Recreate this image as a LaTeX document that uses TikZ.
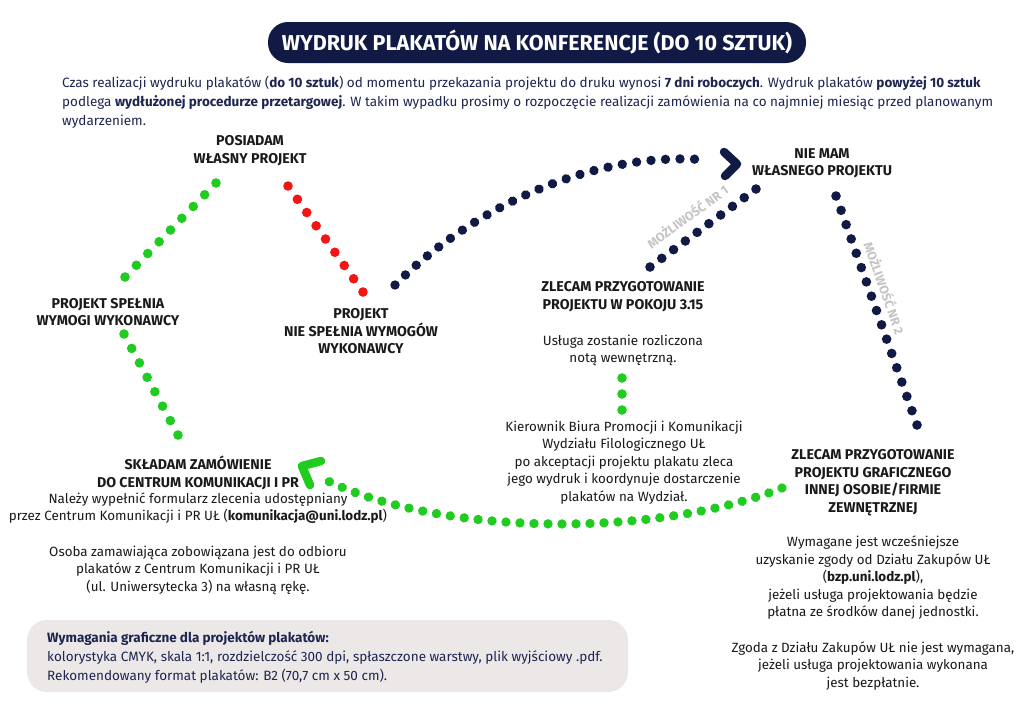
\documentclass[tikz,border=0pt]{standalone}
\usepackage{fontspec}
\setmainfont{Fira Sans}
\usetikzlibrary{calc,decorations.markings}
\definecolor{navy}{HTML}{111A44}
\definecolor{intro}{HTML}{1E2550}
\definecolor{grn}{HTML}{1FCC1F}
\definecolor{rd}{HTML}{F51414}
\definecolor{lbl}{HTML}{C4C4C4}
\definecolor{boxbg}{HTML}{ECE8E8}
\definecolor{txt}{HTML}{1A1A1A}
\newcommand\dotrow[4]{\foreach \i in {0,...,#3} \fill[#4] ($(#1)!\i/#3!(#2)$) circle (4.8pt);}
\begin{document}
\begin{tikzpicture}[x=1pt,y=-1pt,
 head/.style={font=\fontsize{14.2}{17.5}\selectfont\bfseries, align=center, text=txt, inner sep=0pt},
 body/.style={font=\fontsize{13.4}{17.6}\selectfont, align=center, text=txt, inner sep=0pt},
 possib/.style={font=\fontsize{12.5}{14}\selectfont\bfseries, text=lbl, inner sep=0pt},
 chev/.style={line width=8.5pt, line cap=round, line join=round},
 curvedots/.style 2 args={postaction={decorate}, decoration={markings, mark=between positions 0 and 1 step #2 with {\fill[#1] (0,0) circle (4.7pt);}}}
]
\useasboundingbox[fill=white] (0,0) rectangle (1024,724);

% title
\node[fill=navy, rounded corners=20pt, minimum width=538pt, minimum height=41pt, inner sep=0pt,
  text=white, font=\fontsize{21.5}{24}\selectfont\bfseries] (title) at (537,42.5) {WYDRUK PLAKATÓW NA KONFERENCJE (DO 10 SZTUK)};

% intro
\node[anchor=west, align=left, inner sep=0pt, text=intro, font=\fontsize{13.5}{19}\selectfont] (intro) at (62,102)
 {Czas realizacji wydruku plakatów (\textbf{do 10 sztuk}) od momentu przekazania projektu do druku wynosi \textbf{7 dni roboczych}. Wydruk plakatów \textbf{powyżej 10 sztuk}\\
 podlega \textbf{wydłużonej procedurze przetargowej}. W takim wypadku prosimy o rozpoczęcie realizacji zamówienia na co najmniej miesiąc przed planowanym\\
 wydarzeniem.};

% headings and texts
\node[head] (own) at (250,150.5) {POSIADAM\\WŁASNY PROJEKT};
\node[head] (noown) at (822,163.5) {NIE MAM\\WŁASNEGO PROJEKTU};
\node[head] (ok) at (108,312) {PROJEKT SPEŁNIA\\WYMOGI WYKONAWCY};
\node[head] (notok) at (361,331.5) {PROJEKT\\NIE SPEŁNIA WYMOGÓW\\WYKONAWCY};
\node[head] (room) at (623,296.5) {ZLECAM PRZYGOTOWANIE\\PROJEKTU W POKOJU 3.15};
\node[body] (note) at (623,350.5) {Usługa zostanie rozliczona\\notą wewnętrzną.};
\node[body] (kier) at (624,462.5) {Kierownik Biura Promocji i Komunikacji\\Wydziału Filologicznego UŁ\\po akceptacji projektu plakatu zleca\\jego wydruk i koordynuje dostarczenie\\plakatów na Wydział.};
\node[head] (ext) at (873,482.5) {ZLECAM PRZYGOTOWANIE\\PROJEKTU GRAFICZNEGO\\INNEJ OSOBIE/FIRMIE\\ZEWNĘTRZNEJ};
\node[body] (extbody) at (873,613) {Wymagane jest wcześniejsze\\uzyskanie zgody od Działu Zakupów UŁ\\(\textbf{bzp.uni.lodz.pl}),\\jeżeli usługa projektowania będzie\\płatna ze środków danej jednostki.\\[17.6pt]Zgoda z Działu Zakupów UŁ nie jest wymagana,\\jeżeli usługa projektowania wykonana\\jest bezpłatnie.};
\node[body] (orderhead) at (198,473) {\fontsize{14.2}{17.6}\selectfont\bfseries SKŁADAM ZAMÓWIENIE\\\fontsize{14.2}{17.6}\selectfont\bfseries DO CENTRUM KOMUNIKACJI I PR};
\node[body] (order) at (198,543.5) {Należy wypełnić formularz zlecenia udostępniany\\przez Centrum Komunikacji i PR UŁ (\textbf{komunikacja@uni.lodz.pl})\\[17.6pt]Osoba zamawiająca zobowiązana jest do odbioru\\plakatów z Centrum Komunikacji i PR UŁ\\(ul. Uniwersytecka 3) na własną rękę.};

% requirements box
\node[fill=boxbg, rounded corners=20pt, minimum width=601pt, minimum height=72pt, inner sep=0pt] (reqbox) at (327.5,656) {};
\node[anchor=west, align=left, inner sep=0pt, text=intro, font=\fontsize{13.5}{19}\selectfont] (req) at (47,657)
 {\textbf{Wymagania graficzne dla projektów plakatów:}\\kolorystyka CMYK, skala 1:1, rozdzielczość 300 dpi, spłaszczone warstwy, plik wyjściowy .pdf.\\Rekomendowany format plakatów: B2 (70,7 cm x 50 cm).};

% connector end points
\coordinate (g1s) at (216,183); \coordinate (g1e) at (125,277);
\coordinate (r1s) at (288,186); \coordinate (r1e) at (363,292);
\coordinate (n1s) at (395,285); \coordinate (n1e) at (708,160);
\coordinate (p1s) at (756,189); \coordinate (p1e) at (650,267);
\coordinate (p2s) at (836,196); \coordinate (p2e) at (917,425);
\coordinate (g2s) at (124,334); \coordinate (g2e) at (178,435);
\coordinate (g3s) at (622,378); \coordinate (g3e) at (622,410);
\coordinate (g4s) at (782,488); \coordinate (g4e) at (320,477);

% dotted connectors
\dotrow{g1s}{g1e}{8}{grn}
\dotrow{r1s}{r1e}{8}{rd}
\dotrow{g2s}{g2e}{7}{grn}
\dotrow{g3s}{g3e}{2}{grn}
\dotrow{p1s}{p1e}{9}{navy}
\dotrow{p2s}{p2e}{16}{navy}
\path[curvedots={navy}{14.5pt}] (n1s) .. controls (470,210) and (590,150) .. (n1e);
\path[curvedots={grn}{14pt}] (g4s) .. controls (650,540) and (430,535) .. (g4e);

% arrow heads
\draw[navy, chev] (724,152) -- (737,164) -- (725,176);
\draw[grn, chev] (321,461) -- (302,466) -- (310,485);

% option labels
\node[possib, rotate=36] (opt1) at (687,216) {MOŻLIWOŚĆ NR 1};
\node[possib, rotate=-70.5] (opt2) at (885,288) {MOŻLIWOŚĆ NR 2};
\end{tikzpicture}
\end{document}
